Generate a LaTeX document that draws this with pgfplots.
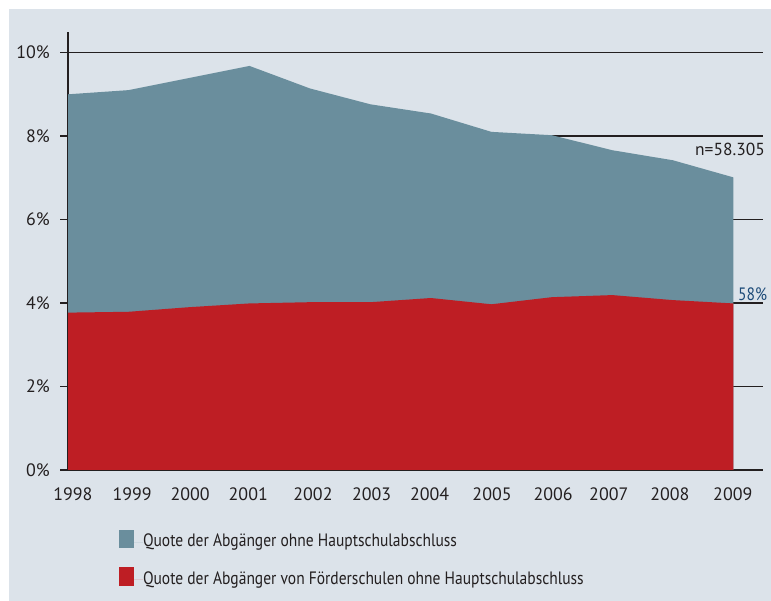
\documentclass[border=0pt]{standalone}
\usepackage{pgfplots}
\pgfplotsset{compat=1.18}
\usepackage{fontspec}
\setmainfont[FakeStretch=0.865]{PT Sans}
\newfontfamily\numfont{PT Sans}
\definecolor{bgcol}{RGB}{220,227,234}
\definecolor{areagray}{RGB}{106,142,157}
\definecolor{areared}{RGB}{190,30,36}
\definecolor{txtblue}{RGB}{28,74,120}
\definecolor{inkcol}{RGB}{35,31,32}
\begin{document}
\begin{tikzpicture}[x=1bp,y=1bp]
\useasboundingbox (0,0) rectangle (771,601);
\fill[bgcol] (9,0) rectangle (771,592);
\begin{axis}[
  at={(68bp,131bp)}, anchor=south west,
  scale only axis, width=695bp, height=438.3bp,
  xmin=1998, xmax=2009.49, ymin=0, ymax=10.5,
  axis lines*=left,
  axis line style={inkcol, line width=1.4bp},
  ymajorgrids, grid style={inkcol, line width=1.1bp},
  ytick={0,2,4,6,8,10},
  yticklabels={0\%,2\%,4\%,6\%,8\%,10\%},
  xtick={1998.08,1999.06,2000.02,2000.98,2002.05,2003.02,2003.98,2005.01,2006.02,2006.94,2007.95,2008.99},
  xticklabels={1998,1999,2000,2001,2002,2003,2004,2005,2006,2007,2008,2009},
  tick align=outside, major tick length=8bp,
  ytick style={inkcol, line width=1.4bp},
  xtick style={draw=none},
  /pgf/number format/assume math mode=true,
  tick label style={font=\numfont\fontsize{18}{21}\selectfont, text=inkcol, inner sep=0pt},
  yticklabel style={anchor=east, xshift=-10bp},
  xticklabel style={anchor=north, text height=12.7bp, yshift=-10bp},
  clip=false,
  legend cell align=left,
  legend style={draw=none, fill=none, inner sep=0pt, outer sep=0pt,
    at={(0.0734,-0.136)}, anchor=north west, row sep=17bp,
    font=\fontsize{18}{21}\selectfont, text=inkcol,
    nodes={inner sep=0pt, text height=12.7bp, text depth=4bp}},
  legend image code/.code={\fill[#1] (0bp,-6bp) rectangle (15bp,12.5bp);\path (15bp,0bp) -- (24bp,0bp);},
]
\addplot[fill=areagray, draw=none] coordinates {
 (1998,9.00) (1999,9.10) (2000,9.39) (2001,9.68) (2002,9.14) (2003,8.76)
 (2004,8.54) (2005,8.10) (2006,8.02) (2007,7.66) (2008,7.42) (2009,7.01)} \closedcycle;
\addlegendentry{Quote der Abgänger ohne Hauptschulabschluss}
\addplot[fill=areared, draw=none] coordinates {
 (1998,3.77) (1999,3.79) (2000,3.90) (2001,3.99) (2002,4.02) (2003,4.02)
 (2004,4.12) (2005,3.97) (2006,4.14) (2007,4.19) (2008,4.07) (2009,3.99)} \closedcycle;
\addlegendentry{Quote der Abgänger von Förderschulen ohne Hauptschulabschluss}
\end{axis}
\node[anchor=base west, inner sep=0pt, font=\numfont\fontsize{17.5}{21}\selectfont, text=inkcol] at (695,445) {n=58.305};
\node[anchor=base west, inner sep=0pt, font=\fontsize{18}{21}\selectfont, text=txtblue] at (738,300) {58\%};
\end{tikzpicture}
\end{document}
